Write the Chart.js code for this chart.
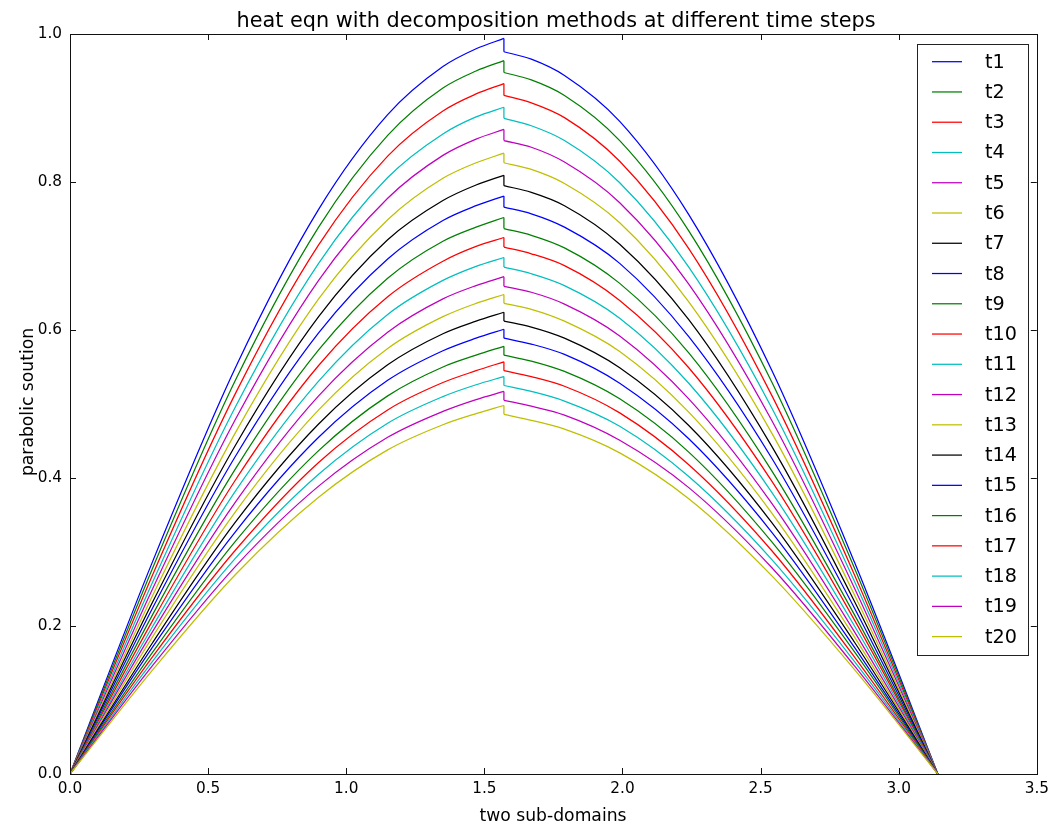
<!DOCTYPE html>
<html>
<head>
<meta charset="utf-8">
<script src="https://cdn.jsdelivr.net/npm/chart.js@4.4.1/dist/chart.umd.min.js"></script>
<style>
  html, body { margin: 0; padding: 0; background: #fff; }
  #wrap { width: 1055px; height: 829px; position: relative; }
</style>
</head>
<body>
<div id="wrap"><canvas id="chart"></canvas></div>
<script>
// x positions shared by every curve (the jump sits at pi/2)
const xs = [0, 0.3, 0.6, 0.9, 1.15, 1.35, 1.47, 1.5708, 1.5708, 1.67, 1.79, 1.99, 2.24, 2.54, 2.84, 3.1416];

// values, one array per time step
const t1  = [0, 0.288, 0.550, 0.763, 0.891, 0.956, 0.980, 0.994, 0.976, 0.966, 0.944, 0.882, 0.756, 0.546, 0.286, 0];
const t2  = [0, 0.279, 0.533, 0.739, 0.863, 0.927, 0.950, 0.964, 0.948, 0.938, 0.917, 0.856, 0.734, 0.530, 0.278, 0];
const t3  = [0, 0.270, 0.515, 0.715, 0.835, 0.896, 0.919, 0.933, 0.917, 0.907, 0.887, 0.828, 0.710, 0.512, 0.269, 0];
const t4  = [0, 0.260, 0.497, 0.690, 0.806, 0.865, 0.888, 0.901, 0.886, 0.876, 0.856, 0.799, 0.685, 0.495, 0.260, 0];
const t5  = [0, 0.251, 0.480, 0.667, 0.778, 0.836, 0.858, 0.871, 0.856, 0.847, 0.827, 0.772, 0.662, 0.478, 0.251, 0];
const t6  = [0, 0.242, 0.462, 0.642, 0.749, 0.805, 0.826, 0.839, 0.826, 0.817, 0.798, 0.745, 0.638, 0.461, 0.242, 0];
const t7  = [0, 0.233, 0.445, 0.618, 0.722, 0.775, 0.796, 0.809, 0.795, 0.786, 0.768, 0.716, 0.614, 0.443, 0.233, 0];
const t8  = [0, 0.225, 0.430, 0.596, 0.696, 0.748, 0.768, 0.781, 0.766, 0.757, 0.739, 0.690, 0.591, 0.427, 0.224, 0];
const t9  = [0, 0.216, 0.413, 0.573, 0.670, 0.720, 0.739, 0.752, 0.737, 0.728, 0.711, 0.663, 0.569, 0.410, 0.215, 0];
const t10 = [0, 0.208, 0.398, 0.552, 0.645, 0.693, 0.713, 0.725, 0.712, 0.703, 0.687, 0.640, 0.549, 0.396, 0.208, 0];
const t11 = [0, 0.200, 0.383, 0.531, 0.621, 0.667, 0.686, 0.698, 0.685, 0.676, 0.660, 0.616, 0.528, 0.381, 0.200, 0];
const t12 = [0, 0.193, 0.368, 0.511, 0.597, 0.642, 0.660, 0.672, 0.659, 0.651, 0.635, 0.592, 0.507, 0.366, 0.192, 0];
const t13 = [0, 0.186, 0.355, 0.492, 0.575, 0.618, 0.636, 0.648, 0.636, 0.628, 0.612, 0.571, 0.489, 0.353, 0.185, 0];
const t14 = [0, 0.178, 0.341, 0.473, 0.553, 0.595, 0.612, 0.624, 0.612, 0.604, 0.589, 0.549, 0.471, 0.340, 0.178, 0];
const t15 = [0, 0.172, 0.328, 0.455, 0.532, 0.572, 0.589, 0.601, 0.589, 0.581, 0.567, 0.528, 0.453, 0.327, 0.171, 0];
const t16 = [0, 0.165, 0.315, 0.437, 0.511, 0.550, 0.566, 0.578, 0.566, 0.558, 0.544, 0.507, 0.435, 0.314, 0.165, 0];
const t17 = [0, 0.159, 0.303, 0.421, 0.492, 0.529, 0.545, 0.557, 0.545, 0.537, 0.524, 0.488, 0.418, 0.302, 0.158, 0];
const t18 = [0, 0.153, 0.292, 0.405, 0.474, 0.510, 0.526, 0.537, 0.525, 0.517, 0.504, 0.470, 0.402, 0.290, 0.152, 0];
const t19 = [0, 0.147, 0.281, 0.389, 0.455, 0.490, 0.506, 0.517, 0.505, 0.497, 0.485, 0.451, 0.387, 0.279, 0.146, 0];
const t20 = [0, 0.141, 0.270, 0.374, 0.438, 0.472, 0.487, 0.498, 0.486, 0.478, 0.466, 0.434, 0.372, 0.268, 0.141, 0];

const series = [t1, t2, t3, t4, t5, t6, t7, t8, t9, t10, t11, t12, t13, t14, t15, t16, t17, t18, t19, t20];
const labels = series.map((_, i) => `t${i + 1}`);
const palette = ['#0000ff', '#008000', '#ff0000', '#00bfbf', '#bf00bf', '#bfbf00', '#000000'];

const xTicks = [0, 0.5, 1.0, 1.5, 2.0, 2.5, 3.0, 3.5];
const yTicks = [0, 0.2, 0.4, 0.6, 0.8, 1.0];

const FONT = "'DejaVu Sans', sans-serif";
const PEAK = 7; // index of the left-hand value at the interface

// each curve = left sub-domain + vertical jump + right sub-domain,
// so both halves keep their slope right up to the interface
const datasets = [];
series.forEach((vals, i) => {
    const pts = xs.map((x, k) => ({ x, y: vals[k] }));
    const color = palette[i % palette.length];
    const base = {
        label: labels[i],
        borderColor: color,
        backgroundColor: color,
        borderWidth: 1.25,
        pointRadius: 0,
        fill: false,
        order: series.length - i,
    };
    datasets.push({ ...base, data: pts.slice(0, PEAK + 1), cubicInterpolationMode: 'monotone' });
    datasets.push({ ...base, data: pts.slice(PEAK, PEAK + 2), tension: 0 });
    datasets.push({ ...base, data: pts.slice(PEAK + 1), cubicInterpolationMode: 'monotone' });
});

// frame with inward ticks, title, axis labels and the boxed legend
const decor = {
    id: 'decor',
    afterDraw(chart) {
        const { ctx, chartArea: a, scales } = chart;
        const tl = 6;
        ctx.save();
        ctx.strokeStyle = '#111';
        ctx.lineWidth = 1;
        ctx.strokeRect(Math.round(a.left) + 0.5, Math.round(a.top) + 0.5,
            Math.round(a.right - a.left), Math.round(a.bottom - a.top));
        ctx.beginPath();
        xTicks.forEach((v) => {
            const px = Math.round(scales.x.getPixelForValue(v)) + 0.5;
            ctx.moveTo(px, a.bottom); ctx.lineTo(px, a.bottom - tl);
            ctx.moveTo(px, a.top); ctx.lineTo(px, a.top + tl);
        });
        yTicks.forEach((v) => {
            const py = Math.round(scales.y.getPixelForValue(v)) + 0.5;
            ctx.moveTo(a.left, py); ctx.lineTo(a.left + tl, py);
            ctx.moveTo(a.right, py); ctx.lineTo(a.right - tl, py);
        });
        ctx.stroke();

        ctx.fillStyle = '#000';
        ctx.textAlign = 'center';
        ctx.textBaseline = 'alphabetic';
        ctx.font = `20.8px ${FONT}`;
        ctx.fillText('heat eqn with decomposition methods at different time steps', 556, 27);
        ctx.font = `17.2px ${FONT}`;
        ctx.fillText('two sub-domains', 553, 821);
        ctx.save();
        ctx.translate(33, 402);
        ctx.rotate(-Math.PI / 2);
        ctx.fillText('parabolic soution', 0, 0);
        ctx.restore();

        // legend
        const lx = 917.5, ly = 44.5, lw = 111, lh = 611;
        ctx.fillStyle = '#fff';
        ctx.fillRect(lx, ly, lw, lh);
        ctx.strokeStyle = '#222';
        ctx.strokeRect(lx, ly, lw, lh);
        ctx.font = `19.2px ${FONT}`;
        ctx.textAlign = 'left';
        ctx.textBaseline = 'middle';
        labels.forEach((label, i) => {
            const y = 61.7 + i * 30.26;
            ctx.strokeStyle = palette[i % palette.length];
            ctx.lineWidth = 1.25;
            ctx.beginPath();
            ctx.moveTo(932, y);
            ctx.lineTo(962, y);
            ctx.stroke();
            ctx.fillStyle = '#000';
            ctx.fillText(label, 985, y + 1);
        });
        ctx.restore();
    },
};

new Chart(document.getElementById('chart'), {
    type: 'line',
    data: { datasets },
    options: {
        responsive: true,
        maintainAspectRatio: false,
        animation: false,
        layout: { padding: { top: 34, right: 16, left: 0, bottom: 0 } },
        plugins: { legend: { display: false }, tooltip: { enabled: false }, title: { display: false } },
        scales: {
            x: {
                type: 'linear',
                min: 0,
                max: 3.5,
                afterBuildTicks: (s) => { s.ticks = xTicks.map((v) => ({ value: v })); },
                afterFit: (s) => { s.height = 55; },
                ticks: {
                    callback: (v) => Number(v).toFixed(1),
                    font: { family: FONT, size: 15.3 },
                    color: '#000',
                    padding: 6,
                    maxRotation: 0,
                    autoSkip: false,
                },
                grid: { display: false, drawTicks: false },
                border: { display: false },
            },
            y: {
                type: 'linear',
                min: 0,
                max: 1,
                afterBuildTicks: (s) => { s.ticks = yTicks.map((v) => ({ value: v })); },
                afterFit: (s) => { s.width = 70; },
                ticks: {
                    callback: (v) => Number(v).toFixed(1),
                    font: { family: FONT, size: 15.3 },
                    color: '#000',
                    padding: 8,
                    autoSkip: false,
                },
                grid: { display: false, drawTicks: false },
                border: { display: false },
            },
        },
    },
    plugins: [decor],
});
</script>
</body>
</html>
